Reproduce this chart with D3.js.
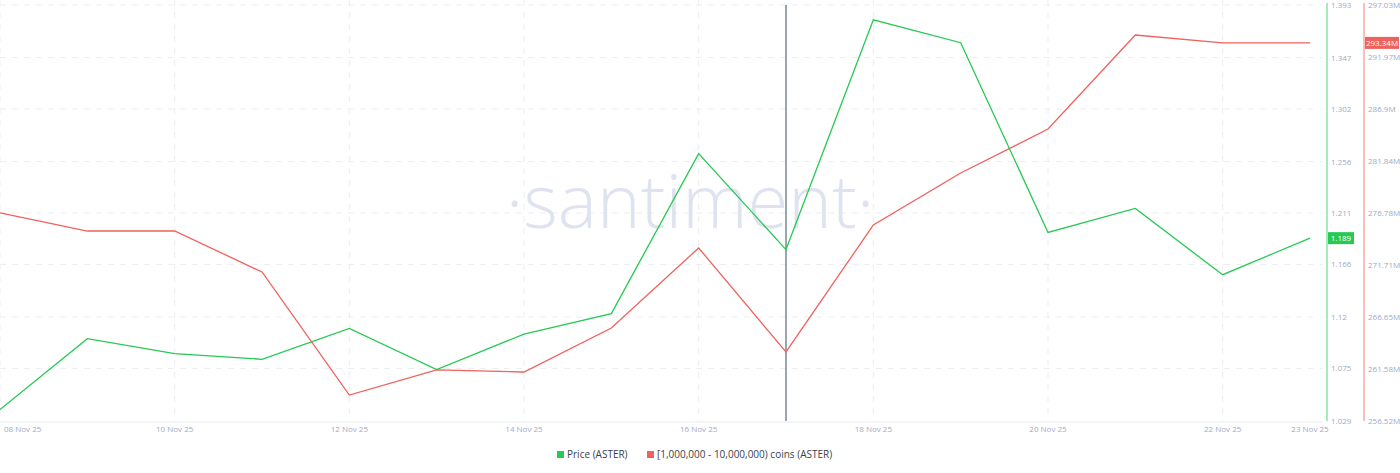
<!DOCTYPE html>
<html>
<head>
<meta charset="utf-8">
<script src="https://cdn.jsdelivr.net/npm/d3@7"></script>
<style>
  body { margin: 0; background: #fff; font-family: "Open Sans", sans-serif; }
  text { font-family: "Open Sans", sans-serif; }
</style>
</head>
<body>
<svg id="chart" width="1400" height="473"></svg>
<script>
// data
var dates = ["08 Nov 25","09 Nov 25","10 Nov 25","11 Nov 25","12 Nov 25","13 Nov 25","14 Nov 25","15 Nov 25",
             "16 Nov 25","17 Nov 25","18 Nov 25","19 Nov 25","20 Nov 25","21 Nov 25","22 Nov 25","23 Nov 25"];
var price = [1.039,1.101,1.088,1.083,1.110,1.074,1.105,1.123,1.263,1.179,1.380,1.360,1.194,1.215,1.157,1.189];
var holders = [276.78,275.02,275.02,271.03,259.05,261.49,261.29,265.58,273.37,263.24,275.61,280.67,284.95,294.11,293.34,293.34];
var priceTicks = [1.029,1.075,1.12,1.166,1.211,1.256,1.302,1.347,1.393];
var holderTicks = [256.52,261.58,266.65,271.71,276.78,281.84,286.9,291.97,297.03];
var xTickLabels = ["08 Nov 25","10 Nov 25","12 Nov 25","14 Nov 25","16 Nov 25","18 Nov 25","20 Nov 25","22 Nov 25","23 Nov 25"];

var svg = d3.select("#chart");
var plotTop = 5, plotBottom = 421;
var x = d3.scalePoint().domain(dates).range([0, 1310]);
var yP = d3.scaleLinear().domain([1.029, 1.393]).range([plotBottom, plotTop]);
var yH = d3.scaleLinear().domain([256.52, 297.03]).range([plotBottom, plotTop]);

// grid
svg.append("g").selectAll("line").data(priceTicks.slice(1)).enter().append("line")
  .attr("x1", 0).attr("x2", 1322).attr("y1", d => yP(d)).attr("y2", d => yP(d))
  .attr("stroke", "#ebedf0").attr("stroke-dasharray", "6,6");
svg.append("g").selectAll("line").data(xTickLabels.slice(0, -1)).enter().append("line")
  .attr("x1", d => x(d)).attr("x2", d => x(d)).attr("y1", 0).attr("y2", plotBottom)
  .attr("stroke", "#ebedf0").attr("stroke-dasharray", "6,6");
svg.append("line").attr("x1", 0).attr("x2", 1322).attr("y1", plotBottom + 1).attr("y2", plotBottom + 1)
  .attr("stroke", "#e7eaee");

// watermark
svg.append("text").attr("x", 690).attr("y", 228).attr("text-anchor", "middle")
  .attr("font-size", 74).attr("fill", "#dfe3f0").attr("font-weight", 300)
  .text("·santiment·");

// cursor line
svg.append("line").attr("x1", x("17 Nov 25")).attr("x2", x("17 Nov 25"))
  .attr("y1", 5).attr("y2", plotBottom).attr("stroke", "#7a8699").attr("stroke-width", 1.5);

// lines
svg.append("path").datum(holders)
  .attr("d", d3.line().x((d, i) => x(dates[i])).y(d => yH(d)))
  .attr("fill", "none").attr("stroke", "#f0605d").attr("stroke-width", 1.3);
svg.append("path").datum(price)
  .attr("d", d3.line().x((d, i) => x(dates[i])).y(d => yP(d)))
  .attr("fill", "none").attr("stroke", "#26c953").attr("stroke-width", 1.3);

// axes
svg.append("line").attr("x1", 1327).attr("x2", 1327).attr("y1", 3).attr("y2", plotBottom)
  .attr("stroke", "#26c953").attr("stroke-opacity", 0.8);
svg.append("line").attr("x1", 1364).attr("x2", 1364).attr("y1", 3).attr("y2", plotBottom)
  .attr("stroke", "#f0605d").attr("stroke-opacity", 0.8);
svg.append("g").selectAll("text").data(priceTicks).enter().append("text")
  .attr("x", 1331).attr("y", d => yP(d) + 3).attr("font-size", 8).attr("fill", "#9faac4")
  .text(d => d);
svg.append("g").selectAll("text").data(holderTicks).enter().append("text")
  .attr("x", 1368).attr("y", d => yH(d) + 3).attr("font-size", 8).attr("fill", "#9faac4")
  .text(d => d + "M");
svg.append("g").selectAll("text").data(xTickLabels).enter().append("text")
  .attr("x", (d, i) => i === 0 ? 4 : x(d)).attr("y", 432).attr("font-size", 8)
  .attr("text-anchor", (d, i) => i === 0 ? "start" : "middle").attr("fill", "#9faac4")
  .text(d => d);

// value badges
var lp = price[price.length - 1], lh = holders[holders.length - 1];
svg.append("rect").attr("x", 1328).attr("y", yP(lp) - 6).attr("width", 26).attr("height", 12).attr("fill", "#26c953");
svg.append("text").attr("x", 1341).attr("y", yP(lp) + 3).attr("text-anchor", "middle")
  .attr("font-size", 8).attr("fill", "#fff").text(lp.toFixed(3));
svg.append("rect").attr("x", 1365).attr("y", yH(lh) - 6).attr("width", 34).attr("height", 12).attr("fill", "#f0605d");
svg.append("text").attr("x", 1382).attr("y", yH(lh) + 3).attr("text-anchor", "middle")
  .attr("font-size", 8).attr("fill", "#fff").text(lh.toFixed(2) + "M");

// legend
var leg = svg.append("g").attr("font-size", 10).attr("fill", "#3a3f4a");
leg.append("rect").attr("x", 557).attr("y", 451).attr("width", 7).attr("height", 7).attr("fill", "#26c953");
leg.append("text").attr("x", 567).attr("y", 458).text("Price (ASTER)");
leg.append("rect").attr("x", 647).attr("y", 451).attr("width", 7).attr("height", 7).attr("fill", "#f0605d");
leg.append("text").attr("x", 657).attr("y", 458).text("[1,000,000 - 10,000,000) coins (ASTER)");
</script>
</body>
</html>
